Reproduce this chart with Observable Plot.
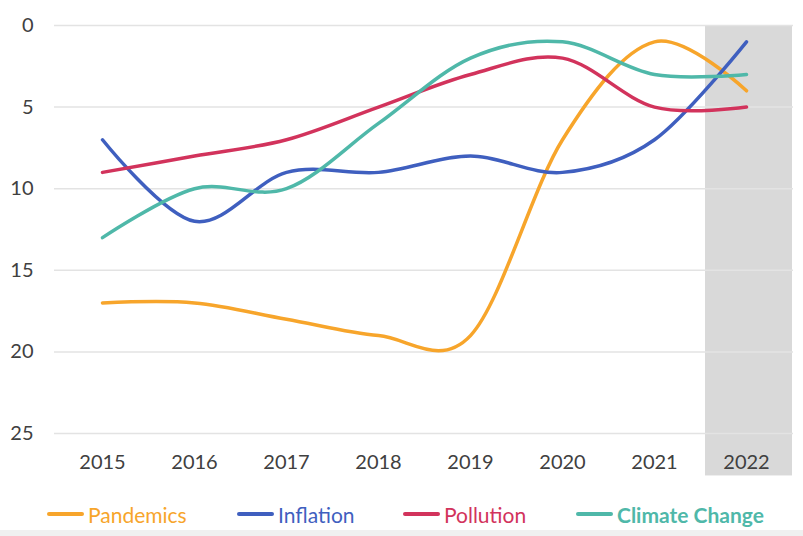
<!DOCTYPE html>
<html>
<head>
<meta charset="utf-8">
<script src="https://cdn.jsdelivr.net/npm/d3@7"></script>
<script src="https://cdn.jsdelivr.net/npm/@observablehq/plot@0.6"></script>
<style>
  html, body { margin: 0; padding: 0; background: #fff; }
  body { width: 803px; height: 536px; overflow: hidden; font-family: Lato, sans-serif; position: relative; }
  #chart { position: absolute; left: 0; top: 0; }
  #legend { position: absolute; left: 0; top: 498px; width: 803px; height: 32px; font-size: 21px; }
  .item { position: absolute; top: 0; height: 32px; display: flex; align-items: center; white-space: nowrap; }
  .sw { width: 37px; height: 4px; border-radius: 2px; margin-right: 4px; }
  #strip { position: absolute; left: 0; right: 0; top: 530px; height: 6px; background: #f0f0f0; }
</style>
</head>
<body>
<div id="chart"></div>
<div id="legend"></div>
<div id="strip"></div>
<script>
const years = ["2015","2016","2017","2018","2019","2020","2021","2022"];
const pandemics = [17, 17, 18, 19, 19, 7, 1, 4];
const inflation = [7, 12, 9, 9, 8, 9, 7, 1];
const pollution = [9, 8, 7, 5, 3, 2, 5, 5];
const climate = [13, 10, 10, 6, 2, 1, 3, 3];
const seriesNames = ["Pandemics", "Inflation", "Pollution", "Climate Change"];
const seriesColors = ["#f7a52b", "#3f5fbf", "#d2335c", "#4fb8a9"];
const legendLefts = [47, 237, 403, 576];
const yTicks = [0, 5, 10, 15, 20, 25];
const highlightYear = "2022";

const allSeries = [pandemics, inflation, pollution, climate];
const data = [];
allSeries.forEach((vals, i) => vals.forEach((v, j) => data.push({series: seriesNames[i], year: years[j], value: v})));

const chart = Plot.plot({
  width: 803,
  height: 484,
  marginLeft: 54,
  marginRight: 10,
  marginTop: 25,
  marginBottom: 51,
  style: {fontFamily: "Lato, sans-serif", fontSize: "20px", color: "#404040", background: "transparent", overflow: "visible"},
  x: {type: "band", domain: years, padding: 0, label: null},
  y: {domain: [0, 25], reverse: true, label: null},
  color: {domain: seriesNames, range: seriesColors},
  marks: [
    Plot.barY([highlightYear], {x: d => d, y1: 0, y2: 27.6, fill: "#d9d9d9", insetLeft: 5, clip: false}),
    Plot.ruleY(yTicks, {stroke: "#e3e3e3", strokeWidth: 1.5}),
    Plot.axisY(yTicks, {tickSize: 0, tickPadding: 21, fontSize: 20, fill: "#404040"}),
    Plot.axisX({tickSize: 0, tickPadding: 21, fontSize: 20, fill: "#404040"}),
    Plot.line(data, {x: "year", y: "value", z: "series", stroke: "series", strokeWidth: 3.5, curve: "cardinal", tension: 0, strokeLinecap: "round"})
  ]
});
document.getElementById("chart").appendChild(chart);

const legend = document.getElementById("legend");
seriesNames.forEach((name, i) => {
  const item = document.createElement("div");
  item.className = "item";
  item.style.left = legendLefts[i] + "px";
  const sw = document.createElement("div");
  sw.className = "sw";
  sw.style.background = seriesColors[i];
  const t = document.createElement("span");
  t.textContent = name;
  t.style.color = seriesColors[i];
  if (i === 3) t.style.fontWeight = "700";
  item.appendChild(sw); item.appendChild(t);
  legend.appendChild(item);
});
</script>
</body>
</html>
